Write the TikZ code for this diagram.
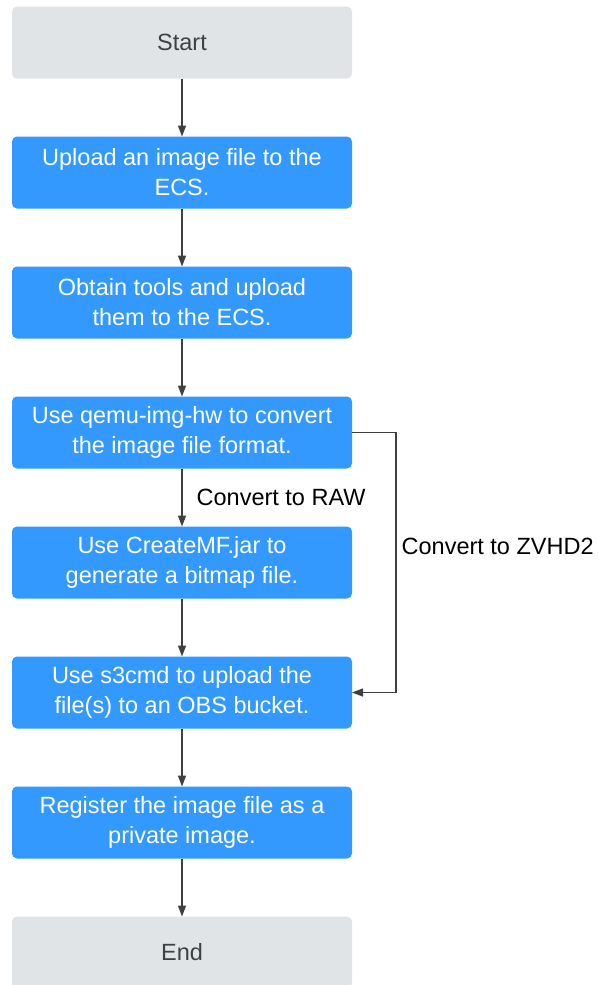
\documentclass[tikz,border=0pt]{standalone}
\usepackage{fontspec}
\setmainfont{Liberation Sans}
\usetikzlibrary{arrows.meta, positioning}
\definecolor{stepblue}{RGB}{51,153,255}
\definecolor{termgray}{RGB}{225,228,231}
\definecolor{linegray}{RGB}{64,64,64}

\begin{document}
\begin{tikzpicture}[x=1pt, y=-1pt,
  block/.style={rounded corners=5pt, align=center, minimum height=72pt, minimum width=340pt, inner sep=0pt, outer sep=0pt, font=\fontsize{23.5}{30}\selectfont},
  stepbox/.style={block, fill=stepblue, text=white},
  term/.style={block, fill=termgray, text=black!75},
  line/.style={linegray, line width=1.3pt, -{Triangle[length=11pt, width=8pt]}},
  lbl/.style={font=\fontsize{23.5}{30}\selectfont, inner sep=0pt, text=black},
  node distance=58pt
]
\useasboundingbox (0,0) rectangle (598,985);

% Eje principal
\node[term] (start) at (182,42.5) {Start};
\node[stepbox, below=of start] (upload) {Upload an image file to the\\ECS.};
\node[stepbox, below=of upload] (tools) {Obtain tools and upload\\them to the ECS.};
\node[stepbox, below=of tools] (qemu) {Use qemu-img-hw to convert\\the image file format.};
\node[stepbox, below=of qemu] (bitmap) {Use CreateMF.jar to\\generate a bitmap file.};
\node[stepbox, below=of bitmap] (s3cmd) {Use s3cmd to upload the\\file(s) to an OBS bucket.};
\node[stepbox, below=of s3cmd] (register) {Register the image file as a\\private image.};
\node[term, below=of register] (end) {End};

% Conexiones principales
\draw[line] (start) -- (upload);
\draw[line] (upload) -- (tools);
\draw[line] (tools) -- (qemu);
\draw[line] (qemu) -- node[lbl, right=14pt]{Convert to RAW} (bitmap);
\draw[line] (bitmap) -- (s3cmd);
\draw[line] (s3cmd) -- (register);
\draw[line] (register) -- (end);

% Ruta lateral
\draw[line] (qemu.east) -- ([xshift=44pt]qemu.east) |- node[lbl, right=5pt, pos=0.22]{Convert to ZVHD2} (s3cmd.east);

\end{tikzpicture}
\end{document}
